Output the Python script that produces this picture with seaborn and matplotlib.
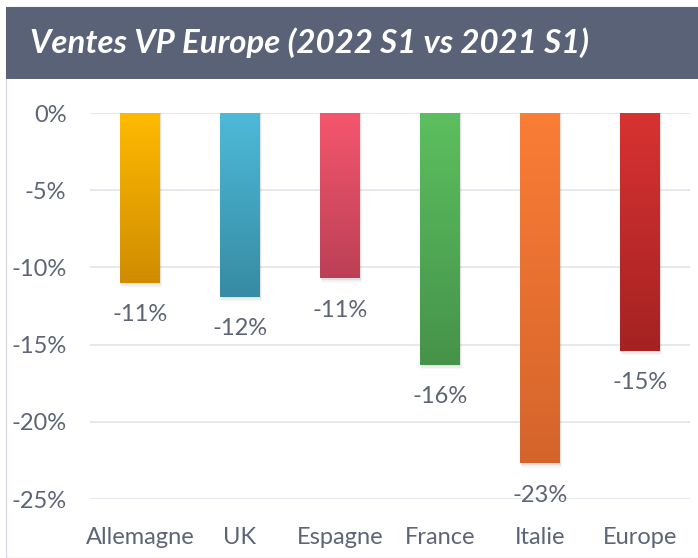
import numpy as np
import matplotlib
matplotlib.use("Agg")
import matplotlib.pyplot as plt
import seaborn as sns
from matplotlib import font_manager
from matplotlib.patches import Rectangle
from matplotlib.colors import to_rgb

countries = ["Allemagne", "UK", "Espagne", "France", "Italie", "Europe"]
values = [-11.0, -11.9, -10.7, -16.3, -22.7, -15.4]
labels = ["-11%", "-12%", "-11%", "-16%", "-23%", "-15%"]
top_colors = ["#ffba00", "#4dbad8", "#f5566e", "#5cbf5f", "#fa7d36", "#d83232"]
bottom_colors = ["#d08c00", "#378ba3", "#bc4055", "#46934a", "#d5642b", "#a52222"]
yticks = [0, -5, -10, -15, -20, -25]

names = {f.name for f in font_manager.fontManager.ttflist}
body_font = "Liberation Sans Narrow" if "Liberation Sans Narrow" in names else "Lato"

sns.set_style("white")
plt.rcParams["font.family"] = [body_font, "DejaVu Sans"]

text_col = "#5d6475"
fig = plt.figure(figsize=(6.98, 5.58), dpi=100)

# outer frame and title band
fig.patches.append(Rectangle((6 / 698, 0), 1, 1 - 7 / 558, transform=fig.transFigure,
                             facecolor="white", edgecolor="#d9dce3", lw=1, zorder=-2))
fig.patches.append(Rectangle((6 / 698, 1 - 79 / 558), 1, 72 / 558, transform=fig.transFigure,
                             facecolor="#5a6277", edgecolor="none", zorder=-1))
fig.text(30 / 698, 1 - 43 / 558, "Ventes VP Europe (2022 S1 vs 2021 S1)", color="white",
         fontsize=23.8, fontweight="bold", fontstyle="italic", va="center", ha="left",
         family=["Lato", "DejaVu Sans"])

ax = fig.add_axes([90 / 698, 1 - 499 / 558, 600 / 698, 386 / 558])
ax.patch.set_alpha(0)
sns.barplot(x=countries, y=values, hue=countries, palette=top_colors, width=0.4,
            legend=False, ax=ax, zorder=3, linewidth=0)

# vertical gradient on every bar
for patch, c_top, c_bot in zip(list(ax.patches), top_colors, bottom_colors):
    x0, w = patch.get_x(), patch.get_width()
    y_top = patch.get_y()
    y_bot = patch.get_y() + patch.get_height()
    grad = np.linspace(0, 1, 100)[:, None, None]
    img = (1 - grad) * np.array(to_rgb(c_top)) + grad * np.array(to_rgb(c_bot))
    im = ax.imshow(img, extent=[x0, x0 + w, y_bot, y_top], aspect="auto",
                   zorder=4, origin="upper")
    im.set_clip_path(patch)
    # soft shadow
    for k, a in enumerate([0.05, 0.04, 0.03]):
        d = 0.012 * (k + 1)
        ax.add_patch(Rectangle((x0 + d * 0.6, y_bot - d * 8), w, -y_bot + d * 8,
                               facecolor="#000000", alpha=a, edgecolor="none", zorder=2))

for i, (v, lab) in enumerate(zip(values, labels)):
    ax.text(i, v - 2.07, lab, ha="center", va="center", fontsize=17, color=text_col)

ax.set_xlim(-0.5, len(countries) - 0.5)
ax.set_ylim(-25, 0)
ax.set_yticks(yticks)
ax.set_yticklabels([f"{t}%" for t in yticks])
ax.yaxis.grid(True, color="#e1e4ea", lw=1.2, zorder=0)
ax.set_axisbelow(True)
for s in ax.spines.values():
    s.set_visible(False)
ax.tick_params(axis="both", length=0, labelsize=17, labelcolor=text_col)
ax.tick_params(axis="y", pad=17)
ax.tick_params(axis="x", pad=20)
ax.set_xlabel("")
ax.set_ylabel("")

fig.savefig("out.png", dpi=100)
